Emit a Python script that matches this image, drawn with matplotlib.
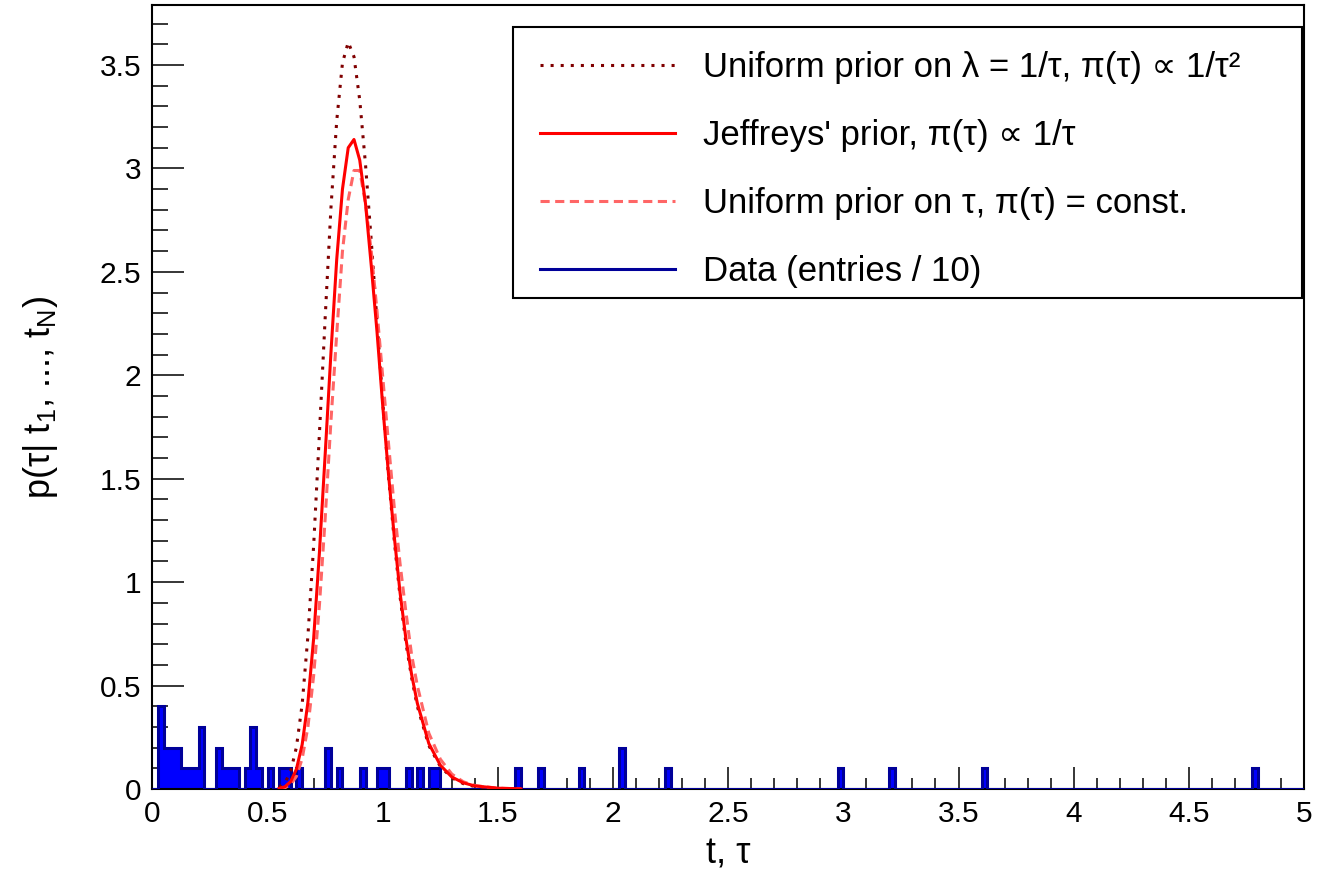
import numpy as np
import matplotlib
matplotlib.use("Agg")
import matplotlib.pyplot as plt
from matplotlib.lines import Line2D
from matplotlib.patches import Rectangle

plt.rcParams['font.family'] = ['Liberation Sans', 'DejaVu Sans']
plt.rcParams['mathtext.fontset'] = 'custom'
plt.rcParams['mathtext.rm'] = 'Liberation Sans'
plt.rcParams['mathtext.it'] = 'Liberation Sans:italic'

# decay times (each entry weighted 1/10)
data_t = [0.038, 0.038, 0.038, 0.038, 0.062, 0.062, 0.088, 0.088, 0.112, 0.112,
          0.138, 0.162, 0.188, 0.212, 0.212, 0.212, 0.288, 0.288, 0.312, 0.338,
          0.362, 0.412, 0.438, 0.438, 0.438, 0.462, 0.512, 0.562, 0.588, 0.638,
          0.762, 0.762, 0.812, 0.912, 0.988, 1.012, 1.112, 1.162, 1.212, 1.238,
          1.588, 1.688, 1.862, 2.038, 2.038, 2.238, 2.988, 3.212, 3.612, 4.788]
n_bins = 200

# posterior curves
tau = [0.55, 0.575, 0.6, 0.625, 0.65, 0.675, 0.7, 0.725, 0.75, 0.775, 0.8,
       0.825, 0.85, 0.875, 0.9, 0.925, 0.95, 0.975, 1.0, 1.025, 1.05, 1.075,
       1.1, 1.125, 1.15, 1.2, 1.25, 1.3, 1.35, 1.4, 1.5, 1.6]
p_uniform_lambda = [0.009, 0.030, 0.085, 0.202, 0.41, 0.74, 1.18, 1.72, 2.28,
                    2.81, 3.23, 3.51, 3.61, 3.54, 3.33, 3.02, 2.65, 2.26, 1.87,
                    1.51, 1.20, 0.93, 0.71, 0.54, 0.40, 0.21, 0.109, 0.054,
                    0.026, 0.012, 0.003, 0.001]
p_jeffreys = [0.003, 0.011, 0.036, 0.096, 0.215, 0.42, 0.73, 1.145, 1.62, 2.11,
              2.56, 2.90, 3.10, 3.14, 3.04, 2.83, 2.53, 2.21, 1.85, 1.52, 1.22,
              0.95, 0.73, 0.555, 0.415, 0.22, 0.115, 0.058, 0.030, 0.015, 0.004,
              0.001]
p_uniform_tau = [0.002, 0.006, 0.022, 0.061, 0.147, 0.30, 0.55, 0.89, 1.31, 1.78,
                 2.20, 2.60, 2.85, 2.99, 2.99, 2.83, 2.60, 2.31, 1.99, 1.67,
                 1.36, 1.09, 0.86, 0.65, 0.50, 0.27, 0.144, 0.072, 0.035, 0.017,
                 0.004, 0.001]

labels = ["Uniform prior on λ = 1/τ, π(τ) ∝ 1/τ²",
          "Jeffreys' prior, π(τ) ∝ 1/τ",
          "Uniform prior on τ, π(τ) = const.",
          "Data (entries / 10)"]

fig = plt.figure(figsize=(13.19, 8.77), dpi=100)
ax = fig.add_axes([0.1156, 0.1003, 0.8730, 0.8940])

counts, edges = np.histogram(data_t, bins=n_bins, range=(0, 5),
                             weights=np.full(len(data_t), 0.1))
ax.stairs(counts, edges, fill=True, color='#0000ff', zorder=2)
ax.stairs(counts, edges, color='#000099', linewidth=2.2, zorder=3)

ax.plot(tau, p_uniform_lambda, color='#800000', linewidth=2.2,
        linestyle=(0, (1, 2.3)), zorder=4)
ax.plot(tau, p_uniform_tau, color='#ff6666', linewidth=2.2,
        linestyle=(0, (3, 1.8)), zorder=4)
ax.plot(tau, p_jeffreys, color='#ff0000', linewidth=2.2, zorder=5)

ax.set_xlim(0, 5)
ax.set_ylim(0, 3.79)
ax.set_xticks(np.arange(0, 5.01, 0.5))
ax.set_xticks(np.arange(0, 5.01, 0.1), minor=True)
ax.set_yticks(np.arange(0, 3.51, 0.5))
ax.set_yticks(np.arange(0, 3.79, 0.1), minor=True)
ax.xaxis.set_major_formatter(matplotlib.ticker.FormatStrFormatter('%g'))
ax.yaxis.set_major_formatter(matplotlib.ticker.FormatStrFormatter('%g'))
ax.tick_params(axis='both', which='both', direction='in', width=1.1,
               labelsize=21.5, top=False, right=False)
ax.tick_params(axis='x', which='major', length=16, pad=8)
ax.tick_params(axis='x', which='minor', length=8)
ax.tick_params(axis='y', which='major', length=23, pad=8)
ax.tick_params(axis='y', which='minor', length=11.5)
for s in ax.spines.values():
    s.set_linewidth(1.5)

ax.set_xlabel('t, τ', fontsize=26)
ax.xaxis.set_label_coords(0.5, -0.06)
ax.set_ylabel(r'p(τ| t$_\mathrm{1}$, ..., t$_\mathrm{N}$)', fontsize=26)
ax.yaxis.set_label_coords(-0.08, 0.5)

# legend frame
ax.add_patch(Rectangle((0.3131, 0.6263), 0.6852, 0.3456, transform=ax.transAxes,
                       facecolor='white', edgecolor='black', linewidth=1.5,
                       clip_on=False, zorder=6))
handles = [Line2D([], [], color='#800000', linewidth=2.2, linestyle=(0, (1, 2.3))),
           Line2D([], [], color='#ff0000', linewidth=2.2),
           Line2D([], [], color='#ff6666', linewidth=2.2, linestyle=(0, (3, 1.8))),
           Line2D([], [], color='#000099', linewidth=2.2)]
leg = ax.legend(handles, labels, loc='upper left', bbox_to_anchor=(0.3365, 0.9413),
                borderaxespad=0, fontsize=25, handlelength=3.9, handletextpad=0.8,
                labelspacing=1.01, borderpad=0, frameon=False)
leg.set_zorder(7)

fig.savefig("out.png", dpi=100)
